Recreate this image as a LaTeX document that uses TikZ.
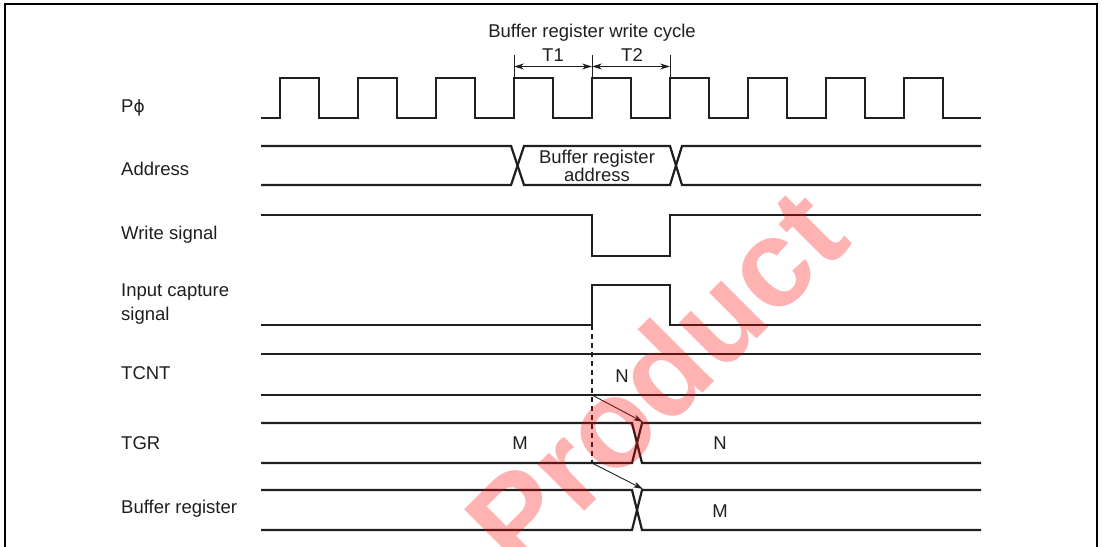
\documentclass[tikz,border=0pt]{standalone}
\usepackage{fontspec}
\setmainfont{Liberation Sans}
\newfontfamily\symfont{DejaVu Sans}
\usetikzlibrary{arrows.meta}
\tikzset{
  sig/.style={line width=2.2pt, draw=black!88},
  thin/.style={line width=0.9pt, draw=black!88},
  lbl/.style={font=\fontsize{18.5}{23.5}\selectfont, anchor=west, inner sep=0pt, align=left, text=black!88},
  val/.style={font=\fontsize{18.5}{17}\selectfont, inner sep=0pt, align=center, text=black!88},
  tip/.style={-{Stealth[length=10pt,width=6pt]}},
  dtip/.style={{Stealth[length=10pt,width=6pt]}-{Stealth[length=10pt,width=6pt]}},
}
\begin{document}
\begin{tikzpicture}[x=1pt,y=-1pt]
\useasboundingbox (0,0) rectangle (1102,546);
% frame
\draw[line width=2.5pt] (5,570) -- (5,4) -- (1097,4) -- (1097,570);

% labels
\node[lbl] (lphi) at (121,108) {P{\symfont\fontsize{17}{20}\selectfont ϕ}};
\node[lbl] (laddr) at (121,169) {Address};
\node[lbl] (lwr) at (121,235) {Write signal};
\node[lbl] (lic) at (121,304) {Input capture\\signal};
\node[lbl] (ltcnt) at (121,373) {TCNT};
\node[lbl] (ltgr) at (121,443) {TGR};
\node[lbl] (lbuf) at (121,509) {Buffer register};

% clock
\draw[sig] (261,118) foreach \i in {0,...,8} {
  -- ({280+78*\i},118) -- ({280+78*\i},78) -- ({319+78*\i},78) -- ({319+78*\i},118) } -- (981,118);

% write cycle annotation
\node[val] (title) at (592,33) {Buffer register write cycle};
\coordinate (t0) at (514,66.5);
\coordinate (t1) at (592,66.5);
\coordinate (t2) at (670,66.5);
\draw[thin] (514,55) -- (514,78);
\draw[thin] (592,55) -- (592,78);
\draw[thin] (670,55) -- (670,78);
\draw[thin,dtip] (t0) -- (t1);
\draw[thin,dtip] (t1) -- (t2);
\node[val] (lt1) at (553,55) {T1};
\node[val] (lt2) at (632,55) {T2};

% address
\draw[sig] (261,146) -- (511,146) -- (524,185) -- (670,185) -- (682,146) -- (981,146);
\draw[sig] (261,185) -- (511,185) -- (524,146) -- (670,146) -- (682,185) -- (981,185);
\node[val] (vaddr) at (597,166) {Buffer register\\address};

% write signal
\draw[sig] (261,215) -- (592,215) -- (592,256) -- (670,256) -- (670,215) -- (981,215);

% input capture signal
\draw[sig] (261,325) -- (592,325) -- (592,285) -- (670,285) -- (670,325) -- (981,325);

% TCNT
\draw[sig] (261,354) -- (981,354);
\draw[sig] (261,395) -- (981,395);
\node[val] (vn1) at (622,376) {N};

% TGR
\draw[sig] (261,423) -- (632,423) -- (642,463) -- (981,463);
\draw[sig] (261,463) -- (632,463) -- (642,423) -- (981,423);
\node[val] (vm1) at (520,443) {M};
\node[val] (vn2) at (720,443) {N};

% Buffer register
\draw[sig] (261,490) -- (632,490) -- (642,530) -- (981,530);
\draw[sig] (261,530) -- (632,530) -- (642,490) -- (981,490);
\node[val] (vm2) at (720,511) {M};

% dashed marker and transfer arrows
\coordinate (d0) at (592,325);
\coordinate (d1) at (592,395);
\coordinate (d2) at (592,463);
\coordinate (x1) at (643,422);
\coordinate (x2) at (643,489);
\draw[line width=1.1pt, black!88, dash pattern=on 5pt off 4pt] (d0) -- (d2);
\draw[thin,tip] (d1) -- (x1);
\draw[thin,tip] (d2) -- (x2);

% watermark
\node[rotate=45, text=red, opacity=0.3, inner sep=0pt,
  font=\fontsize{125}{125}\selectfont\bfseries] (wm) at (655,378) {Product};
\end{tikzpicture}
\end{document}
